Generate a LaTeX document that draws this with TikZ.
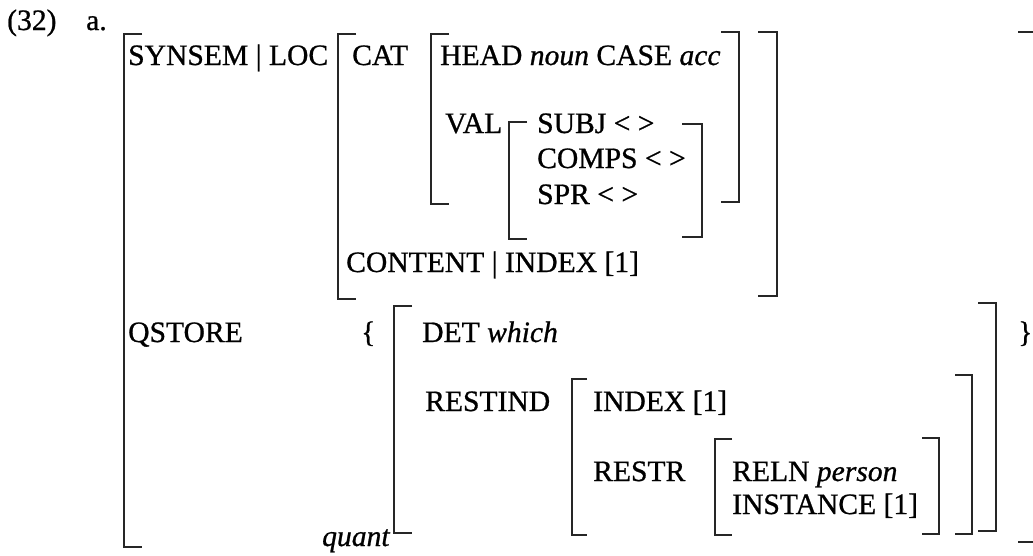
\documentclass[tikz,border=0pt]{standalone}
\usepackage{fontspec}
\setmainfont{Liberation Serif}[FakeBold=0.8]
\newcommand\AvmL[4]{\draw[brk] ({#1+#4},#2) -- (#1,#2) -- (#1,#3) -- ({#1+#4},#3);}
\newcommand\AvmR[4]{\draw[brk] ({#1-#4},#2) -- (#1,#2) -- (#1,#3) -- ({#1-#4},#3);}
\tikzset{
  brk/.style={line width=1.2pt, black!85},
  lbl/.style={anchor=base west, inner sep=0pt, font=\fontsize{29.6}{34}\selectfont},
}
\begin{document}
\begin{tikzpicture}[x=1pt,y=-1pt]
\fill[white] (0,0) rectangle (1033,555);
\useasboundingbox (0,0) rectangle (1033,555);
% texts
\node[lbl] (ex) at (7,30) {(32)};
\node[lbl] (a) at (86,30) {a.};
\node[lbl] (synsem) at (128,65) {SYNSEM | LOC};
\node[lbl] (cat) at (352,65) {CAT};
\node[lbl] (head) at (440,65) {HEAD \textit{noun} CASE \textit{acc}};
\node[lbl] (val) at (445,133) {VAL};
\node[lbl] (subj) at (537,133) {SUBJ < >};
\node[lbl] (comps) at (537,168) {COMPS < >};
\node[lbl] (spr) at (537,204) {SPR < >};
\node[lbl] (content) at (346,272) {CONTENT | INDEX [1]};
\node[lbl] (qstore) at (128,342) {QSTORE};
\node[lbl] (lbrace) at (361,342) {\{};
\node[lbl] (det) at (422,342) {DET \textit{which}};
\node[lbl] (restind) at (425,411) {RESTIND};
\node[lbl] (index) at (593,411) {INDEX [1]};
\node[lbl] (restr) at (593,481) {RESTR};
\node[lbl] (reln) at (732,481) {RELN \textit{person}};
\node[lbl] (inst) at (732,514) {INSTANCE [1]};
\node[lbl] (rbrace) at (1018,342) {\}};
\node[lbl] (quant) at (322,546) {\textit{quant}};
% brackets
\AvmL{124}{34}{547}{18}
\AvmL{338}{34}{299}{18}
\AvmL{431}{34}{204}{18}
\AvmR{739}{32}{202}{18}
\AvmR{777}{32}{296}{19}
\AvmL{509}{122}{239}{18}
\AvmR{702}{124}{237}{20}
\AvmL{394}{306}{533}{18}
\AvmR{996}{303}{531}{18}
\AvmL{572}{379}{535}{15}
\AvmR{972}{375}{534}{17}
\AvmL{715}{439}{535}{17}
\AvmR{939}{438}{534}{17}
\draw[brk] (1018,32) -- (1033,32);
\draw[brk] (1018,542) -- (1033,542);
\end{tikzpicture}
\end{document}
